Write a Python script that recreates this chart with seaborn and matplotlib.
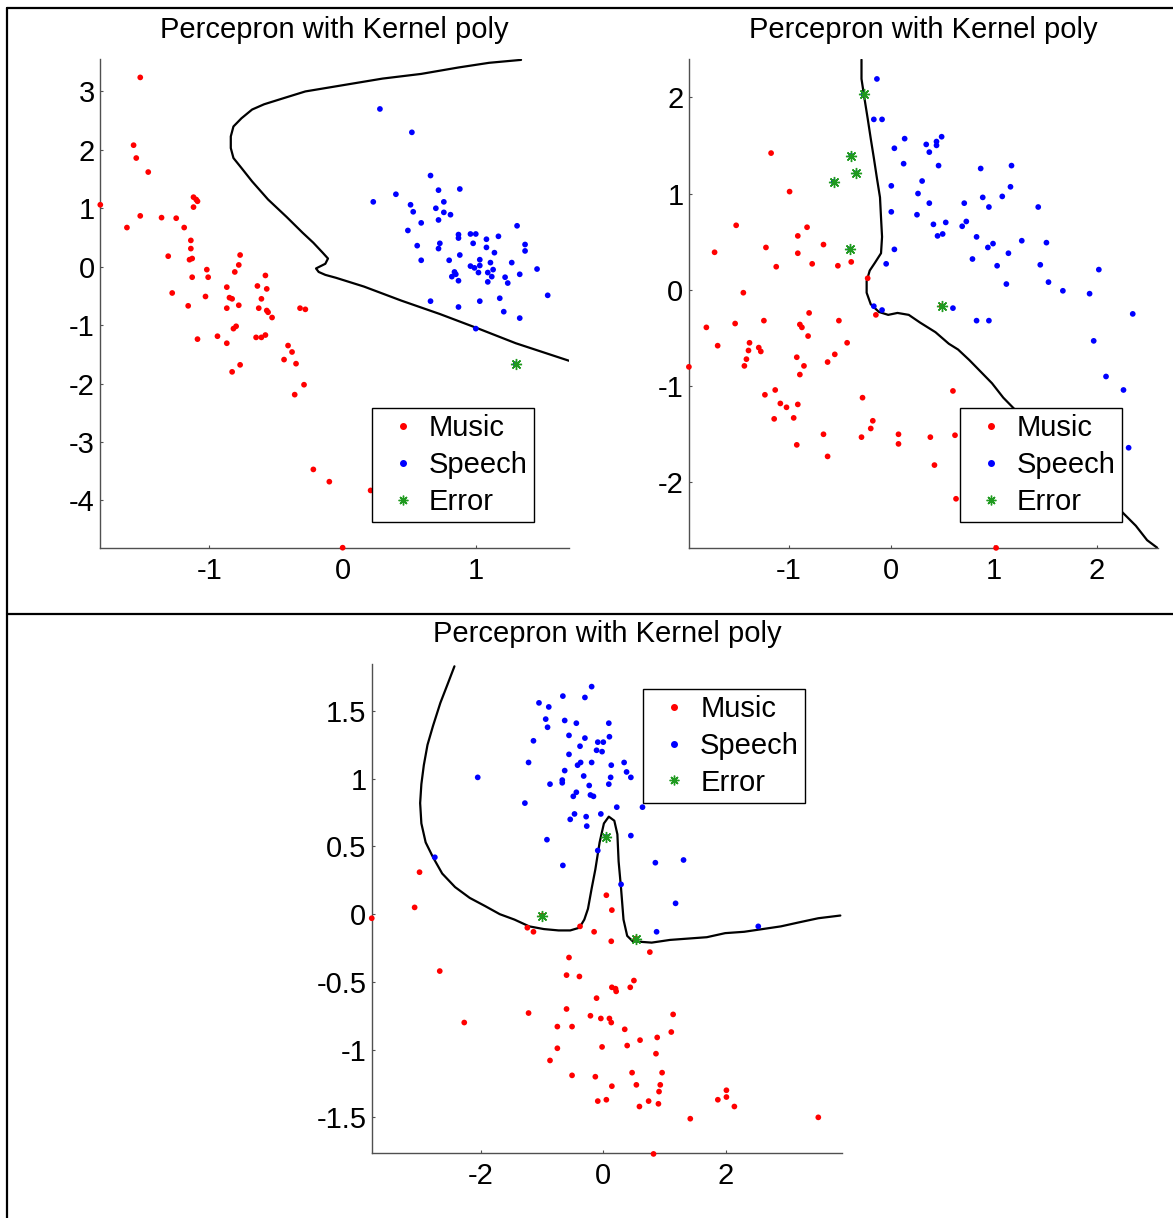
import matplotlib
matplotlib.use('Agg')
import matplotlib.pyplot as plt
from matplotlib.lines import Line2D
from matplotlib.ticker import FuncFormatter
import pandas as pd
import seaborn as sns

# %% data

# top-left panel
p1_music_x = [-1.52, -1.57, -1.55, -1.46, -1.82, -1.52, -1.62, -1.36, -1.25, -1.19, -1.12, -1.10, -1.09, -1.12,
              -1.14, -1.14, -1.15, -1.13, -1.31, -1.13, -1.28, -1.16, -1.02, -1.01, -1.03, -0.77, -0.78, -0.81,
              -0.87, -0.85, -0.83, -0.87, -0.78, -0.82, -0.80, -1.09, -0.94, -0.87, -0.83, -0.77, -0.64, -0.58,
              -0.57, -0.61, -0.63, -0.57, -0.56, -0.53, -0.65, -0.61, -0.58, -0.32, -0.28, -0.41, -0.38, -0.44,
              -0.35, -0.29, -0.36, -0.22, -0.10, 0.21, 0.00]
p1_music_y = [3.24, 2.08, 1.86, 1.62, 1.06, 0.87, 0.67, 0.84, 0.83, 0.67, 1.19, 1.15, 1.12, 1.02,
              0.45, 0.31, 0.12, 0.14, 0.18, -0.18, -0.45, -0.67, -0.05, -0.18, -0.51, 0.20, 0.03, -0.09,
              -0.35, -0.53, -0.55, -0.71, -0.66, -1.06, -1.02, -1.24, -1.19, -1.31, -1.80, -1.68, -0.33, -0.15,
              -0.38, -0.55, -0.71, -0.75, -0.78, -0.87, -1.21, -1.21, -1.17, -0.71, -0.73, -1.35, -1.46, -1.59,
              -1.66, -2.02, -2.19, -3.47, -3.68, -3.83, -4.81]
p1_speech_x = [0.28, 0.52, 0.23, 0.40, 0.66, 0.72, 0.88, 0.76, 0.51, 0.53, 0.70, 0.76, 0.81, 0.72, 0.59,
               0.49, 0.56, 0.59, 0.73, 0.72, 0.87, 0.87, 0.96, 1.00, 0.98, 1.08, 1.17, 1.31, 1.37, 1.37,
               1.08, 1.14, 0.88, 0.80, 1.03, 1.03, 0.96, 0.99, 1.11, 1.27, 1.02, 1.09, 1.13, 1.12, 1.09,
               1.22, 1.24, 1.33, 1.46, 0.84, 0.85, 0.82, 0.87, 1.54, 1.18, 1.03, 0.66, 0.87, 1.21, 1.33,
               1.00, 1.30]
p1_speech_y = [2.70, 2.30, 1.11, 1.24, 1.56, 1.31, 1.33, 1.11, 1.06, 0.94, 1.00, 0.93, 0.89, 0.80, 0.75,
               0.62, 0.36, 0.11, 0.40, 0.31, 0.55, 0.49, 0.56, 0.56, 0.40, 0.47, 0.52, 0.70, 0.38, 0.27,
               0.33, 0.24, 0.20, 0.11, 0.12, 0.02, 0.01, -0.02, 0.07, 0.07, -0.10, -0.10, -0.05, -0.17, -0.26,
               -0.18, -0.28, -0.13, -0.04, -0.09, -0.13, -0.17, -0.24, -0.49, -0.54, -0.59, -0.59, -0.69, -0.77, -0.88,
               -1.06, -1.67]
p1_error_x = [1.30]
p1_error_y = [-1.67]
p1_bound_x = [1.34, 1.10, 0.87, 0.59, 0.30, 0.01, -0.28, -0.45, -0.59, -0.68, -0.76, -0.82, -0.84, -0.84,
              -0.82, -0.76, -0.68, -0.56, -0.42, -0.30, -0.22, -0.15, -0.11, -0.13, -0.20, -0.18, -0.13,
              -0.05, 0.16, 0.44, 0.73, 1.02, 1.30, 1.50, 1.70]
p1_bound_y = [3.54, 3.49, 3.41, 3.30, 3.22, 3.11, 3.00, 2.88, 2.78, 2.69, 2.54, 2.40, 2.23, 2.03,
              1.86, 1.69, 1.46, 1.15, 0.85, 0.58, 0.41, 0.24, 0.14, 0.05, -0.03, -0.09, -0.14,
              -0.19, -0.34, -0.58, -0.81, -1.06, -1.31, -1.46, -1.61]

# top-right panel
p2_music_x = [-1.17, -0.99, -1.51, -0.82, -0.91, -1.72, -1.22, -0.91, -1.12, -0.77, -0.66, -0.52, -0.39, -0.23,
              -1.44, -1.80, -1.52, -1.24, -1.69, -1.38, -1.39, -1.29, -1.27, -1.41, -1.43, -1.97, -0.89, -0.87,
              -0.80, -0.81, -0.51, -0.43, -0.55, -0.62, -0.92, -0.85, -0.89, -0.15, -1.23, -1.13, -1.08, -1.02,
              -1.14, -0.95, -0.91, -0.92, -0.28, -0.18, -0.20, -0.29, -0.66, -0.62, 0.07, 0.07, 0.38, 0.42,
              0.60, 0.62, 0.63, 1.02, 0.49]
p2_music_y = [1.42, 1.02, 0.67, 0.65, 0.56, 0.39, 0.44, 0.38, 0.24, 0.27, 0.47, 0.25, 0.29, 0.12,
              -0.03, -0.39, -0.35, -0.32, -0.58, -0.55, -0.63, -0.60, -0.64, -0.72, -0.79, -0.80, -0.36, -0.39,
              -0.24, -0.48, -0.32, -0.55, -0.67, -0.75, -0.70, -0.79, -0.88, -0.26, -1.09, -1.04, -1.18, -1.22,
              -1.34, -1.33, -1.19, -1.61, -1.12, -1.36, -1.44, -1.53, -1.50, -1.73, -1.50, -1.60, -1.53, -1.82,
              -1.05, -1.51, -2.17, -2.68, -0.17]
p2_speech_x = [-0.14, -0.17, -0.09, 0.03, 0.13, 0.12, 0.00, 0.34, 0.44, 0.44, 0.49, 0.37, 0.46, 0.30, 0.26,
               0.37, 0.25, 0.00, 0.41, 0.53, 0.45, 0.50, 0.69, 0.73, 0.71, 0.87, 0.89, 0.95, 1.08, 1.17,
               1.16, 0.83, 0.99, 0.94, 0.79, 1.03, 1.14, 1.27, 1.43, 1.51, 1.45, 1.53, 1.12, 1.67, 1.93,
               2.02, 2.35, 1.97, 2.09, 2.26, 2.31, 0.03, -0.05, -0.17, -0.09, 0.60, 0.83, 0.95,
               -0.27, -0.39, -0.34, -0.56, -0.40]
p2_speech_y = [2.19, 1.77, 1.77, 1.47, 1.57, 1.31, 1.08, 1.51, 1.54, 1.50, 1.59, 1.43, 1.29, 1.13, 1.00,
               0.90, 0.78, 0.81, 0.68, 0.70, 0.56, 0.58, 0.66, 0.71, 0.90, 1.26, 0.96, 0.86, 0.97, 1.29,
               1.07, 0.55, 0.48, 0.44, 0.32, 0.25, 0.38, 0.51, 0.86, 0.49, 0.26, 0.08, 0.06, -0.01, -0.04,
               0.21, -0.25, -0.53, -0.90, -1.04, -1.64, 0.42, 0.27, -0.17, -0.21, -0.19, -0.32, -0.32,
               2.03, 1.39, 1.21, 1.12, 0.42]
p2_error_x = [-0.27, -0.39, -0.34, -0.56, -0.40, 0.49]
p2_error_y = [2.03, 1.39, 1.21, 1.12, 0.42, -0.17]
p2_bound_x = [-0.29, -0.29, -0.26, -0.23, -0.20, -0.17, -0.14, -0.11, -0.10, -0.09, -0.10, -0.16, -0.21, -0.24,
              -0.24, -0.20, -0.12, -0.03, 0.06, 0.17, 0.28, 0.43, 0.56, 0.65, 0.76, 0.87, 0.98, 1.09, 1.20,
              2.23, 2.38, 2.49, 2.59]
p2_bound_y = [2.39, 2.19, 1.98, 1.78, 1.57, 1.37, 1.16, 0.96, 0.75, 0.55, 0.38, 0.28, 0.20, 0.09,
              -0.03, -0.15, -0.23, -0.26, -0.24, -0.26, -0.34, -0.44, -0.56, -0.62, -0.73, -0.85, -0.97, -1.12, -1.24,
              -2.29, -2.45, -2.60, -2.68]

# bottom panel
p3_music_x = [-3.78, -3.08, -3.00, -2.67, -2.27, -1.24, -1.14, -1.22, -0.38, -0.15, 0.05, 0.14, 0.13, -0.56,
              -0.60, -0.39, 0.76, 0.50, 0.44, 0.14, 0.20, 0.21, -0.11, -0.60, -0.21, -0.04, 0.10, 0.13,
              -0.75, -0.51, 0.35, 1.11, 1.14, 0.60, 0.88, 0.39, -0.02, 0.86, -0.75, -0.87, -0.51, -0.13,
              0.14, 0.47, 0.54, 0.96, 0.93, 0.91, 0.90, 0.74, 0.59, -0.09, 0.05, 1.87, 2.01, 2.01,
              2.14, 1.42, 3.51, 0.82, -1.00, 0.53]
p3_music_y = [-0.03, 0.05, 0.31, -0.42, -0.80, -0.10, -0.13, -0.73, -0.09, -0.13, 0.14, 0.03, -0.20, -0.32,
              -0.45, -0.46, -0.28, -0.49, -0.54, -0.54, -0.55, -0.57, -0.62, -0.70, -0.75, -0.77, -0.77, -0.80,
              -0.83, -0.83, -0.85, -0.87, -0.74, -0.93, -0.91, -0.97, -0.98, -1.03, -0.99, -1.08, -1.19, -1.20,
              -1.27, -1.17, -1.26, -1.17, -1.26, -1.31, -1.40, -1.38, -1.42, -1.38, -1.37, -1.37, -1.30, -1.35,
              -1.42, -1.51, -1.50, -1.77, -0.01, -0.18]
p3_speech_x = [-0.19, -0.66, -0.30, -1.05, -0.89, -0.94, -0.91, -0.63, -0.44, 0.09, -0.56, -0.30, 0.10, -1.14,
               -0.09, 0.00, -0.38, -0.11, -0.02, -0.56, -1.22, -0.37, -0.42, -0.19, 0.13, 0.34, -0.63, -0.32,
               0.38, 0.45, 0.12, -2.05, -0.67, -0.67, -0.87, -0.23, 0.09, -0.44, -0.49, -0.21, -0.16, -1.28,
               0.22, 0.64, -0.47, -0.54, -0.28, -0.04, -0.27, 0.45, -0.92, -0.09, -0.66, -2.75, 0.85, 1.31,
               0.29, 1.18, 0.87, 2.53, 0.05]
p3_speech_y = [1.68, 1.61, 1.60, 1.56, 1.53, 1.44, 1.38, 1.43, 1.41, 1.41, 1.32, 1.30, 1.31, 1.28,
               1.27, 1.27, 1.24, 1.21, 1.20, 1.18, 1.12, 1.12, 1.10, 1.12, 1.10, 1.12, 1.06, 1.02,
               1.05, 1.01, 1.01, 1.01, 0.99, 0.97, 0.96, 0.95, 0.96, 0.90, 0.87, 0.88, 0.87, 0.82,
               0.79, 0.79, 0.74, 0.70, 0.72, 0.74, 0.65, 0.58, 0.55, 0.47, 0.36, 0.42, 0.38, 0.40,
               0.22, 0.08, -0.13, -0.09, 0.57]
p3_error_x = [-1.00, 0.05, 0.53]
p3_error_y = [-0.01, 0.57, -0.18]
p3_bound_x = [-2.43, -2.54, -2.66, -2.78, -2.87, -2.93, -2.97, -2.99, -2.97, -2.90, -2.78, -2.63, -2.42, -2.18,
              -1.93, -1.69, -1.45, -1.21, -0.97, -0.73, -0.54, -0.39, -0.31, -0.25, -0.19, -0.13, -0.06, 0.01,
              0.09, 0.18, 0.23, 0.25, 0.29, 0.33, 0.39, 0.48, 0.79, 1.09, 1.39, 1.69, 1.99, 2.30, 2.60,
              2.90, 3.20, 3.51, 3.87]
p3_bound_y = [1.83, 1.70, 1.56, 1.39, 1.25, 1.10, 0.96, 0.82, 0.67, 0.53, 0.42, 0.30, 0.20, 0.12,
              0.06, 0.00, -0.04, -0.09, -0.11, -0.12, -0.12, -0.10, -0.04, 0.04, 0.19, 0.33, 0.53, 0.67,
              0.72, 0.69, 0.59, 0.39, 0.19, -0.04, -0.16, -0.20, -0.21, -0.19, -0.18, -0.17, -0.14, -0.13, -0.11,
              -0.09, -0.06, -0.03, -0.01]

titles = ['Percepron with Kernel poly'] * 3
legend_labels = ['Music', 'Speech', 'Error']

# %% style

sns.set_theme(style='white')
plt.rcParams['font.family'] = ['Liberation Sans', 'DejaVu Sans']
plt.rcParams['axes.unicode_minus'] = False
plt.rcParams['text.color'] = 'black'

FS = 21
W, H = 1173, 1218

fig = plt.figure(figsize=(W / 100, H / 100), dpi=100)


def box(left, top, right, bottom):
    return [left / W, (H - bottom) / H, (right - left) / W, (bottom - top) / H]


def panel(rect, title, mx, my, sx, sy, ex, ey, bx, by, xlim, ylim, xticks, yticks, leg_xy):
    ax = fig.add_axes(rect)
    df = pd.DataFrame({'x': mx + sx, 'y': my + sy,
                       'cls': ['Music'] * len(mx) + ['Speech'] * len(sx)})
    sns.lineplot(x=bx, y=by, sort=False, estimator=None, color='black', lw=1.6, ax=ax, zorder=2)
    sns.scatterplot(data=df, x='x', y='y', hue='cls', palette={'Music': 'red', 'Speech': 'blue'},
                    s=17, linewidth=0, legend=False, ax=ax, zorder=3, clip_on=False)
    ax.plot(ex, ey, ls='', marker=(8, 2, 0), ms=8, mew=1.0, color='#1f9a1f', zorder=4)
    ax.set_xlim(xlim)
    ax.set_ylim(ylim)
    ax.set_xticks(xticks)
    ax.set_yticks(yticks)
    fmt = FuncFormatter(lambda v, p: '%g' % v)
    ax.xaxis.set_major_formatter(fmt)
    ax.yaxis.set_major_formatter(fmt)
    ax.set_xlabel('')
    ax.set_ylabel('')
    for s in ['top', 'right']:
        ax.spines[s].set_visible(False)
    for s in ['left', 'bottom']:
        ax.spines[s].set_color('#505050')
        ax.spines[s].set_linewidth(1.0)
    ax.tick_params(direction='in', length=2.5, width=0.8, color='#505050', labelsize=FS,
                   labelcolor='black', left=True, bottom=True)
    ax.tick_params(axis='x', pad=7)
    ax.tick_params(axis='y', pad=4)
    ax.set_title(title, fontsize=FS, pad=15.5, color='black')

    handles = [Line2D([], [], ls='', marker='o', ms=4, color='red'),
               Line2D([], [], ls='', marker='o', ms=4, color='blue'),
               Line2D([], [], ls='', marker=(8, 2, 0), ms=7, mew=1.0, color='#1f9a1f')]
    leg = ax.legend(handles, legend_labels, loc='upper left', bbox_to_anchor=leg_xy,
                    borderaxespad=0, fontsize=FS, frameon=True, fancybox=False,
                    borderpad=0.22, handlelength=1.67, handletextpad=0.06, labelspacing=0.3,
                    framealpha=1)
    leg.get_frame().set_edgecolor('black')
    leg.get_frame().set_linewidth(1.0)
    for t in leg.get_texts():
        t.set_color('black')
    leg.set_zorder(10)
    return ax


panel(box(100.3, 59.3, 569, 547.7), titles[0], p1_music_x, p1_music_y, p1_speech_x, p1_speech_y,
      p1_error_x, p1_error_y, p1_bound_x, p1_bound_y,
      (-1.82, 1.70), (-4.81, 3.55), [-1, 0, 1], [-4, -3, -2, -1, 0, 1, 2, 3], (0.5797, 0.286))

panel(box(689, 59.3, 1157.5, 547.7), titles[1], p2_music_x, p2_music_y, p2_speech_x, p2_speech_y,
      p2_error_x, p2_error_y, p2_bound_x, p2_bound_y,
      (-1.969, 2.591), (-2.678, 2.394), [-1, 0, 1, 2], [-2, -1, 0, 1, 2], (0.5787, 0.286))

panel(box(372, 664, 842, 1152.7), titles[2], p3_music_x, p3_music_y, p3_speech_x, p3_speech_y,
      p3_error_x, p3_error_y, p3_bound_x, p3_bound_y,
      (-3.776, 3.897), (-1.761, 1.847), [-2, 0, 2], [-1.5, -1, -0.5, 0, 0.5, 1, 1.5], (0.5772, 0.9494))

# table-like frame around the panels
for xs, ys in [([7, W], [8, 8]), ([7, 7], [8, H]), ([7, W], [614, 614])]:
    fig.add_artist(Line2D([x / W for x in xs], [1 - y / H for y in ys], color='black', lw=1.6))

fig.savefig('out.png', dpi=100)
